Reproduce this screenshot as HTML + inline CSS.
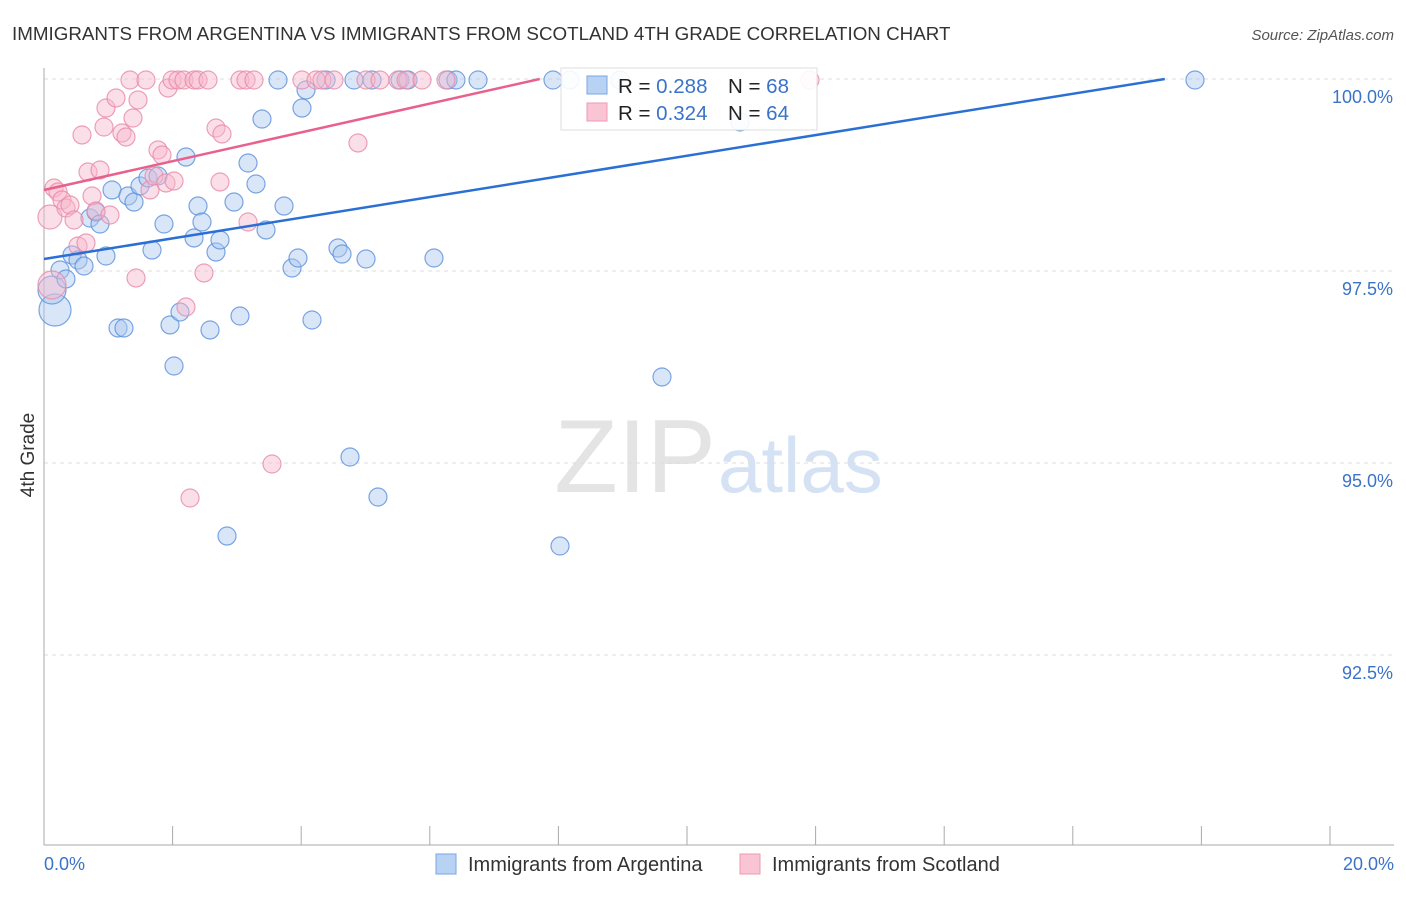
<!DOCTYPE html>
<html><head><meta charset="utf-8"><style>
body{margin:0;background:#fff;font-family:"Liberation Sans",sans-serif;}
svg text{font-family:"Liberation Sans",sans-serif;}
</style></head><body>
<svg width="1406" height="892" xmlns="http://www.w3.org/2000/svg">
<text x="12" y="40" font-size="18.8" fill="#333">IMMIGRANTS FROM ARGENTINA VS IMMIGRANTS FROM SCOTLAND 4TH GRADE CORRELATION CHART</text>
<text x="1394" y="40" font-size="15" fill="#555" text-anchor="end" font-style="italic">Source: ZipAtlas.com</text>
<text x="716" y="492" font-size="104" fill="#e4e4e4" text-anchor="end" font-family="Liberation Serif">ZIP</text>
<text x="718" y="492" font-size="78" fill="#d4e2f4">atlas</text>
<g id="grid"></g>
<g id="axes"></g>
<g id="pts"></g>
<g id="lines"></g>
<text transform="translate(34,455) rotate(-90)" font-size="19" fill="#333" text-anchor="middle">4th Grade</text>
<text x="44" y="870" font-size="18" fill="#3a73c8">0.0%</text>
<text x="1394" y="870" font-size="18" fill="#3a73c8" text-anchor="end">20.0%</text>
<g>
<rect x="561" y="68" width="256" height="62" fill="#fff" fill-opacity="0.9" stroke="#ddd"/>
<rect x="587" y="76" width="20" height="18" fill="#b8d2f4" stroke="#7aa6e4"/>
<rect x="587" y="103" width="20" height="18" fill="#f9c4d4" stroke="#ee9ab4"/>
<text x="618" y="93" font-size="20.5" fill="#222">R = <tspan fill="#3a73c8">0.288</tspan><tspan x="728">N = </tspan><tspan fill="#3a73c8">68</tspan></text>
<text x="618" y="120" font-size="20.5" fill="#222">R = <tspan fill="#3a73c8">0.324</tspan><tspan x="728">N = </tspan><tspan fill="#3a73c8">64</tspan></text>
</g>
<g><rect x="436" y="854" width="20" height="20" fill="#b8d2f4" stroke="#7aa6e4"/><text x="468" y="871" font-size="20" fill="#333">Immigrants from Argentina</text></g>
<g><rect x="740" y="854" width="20" height="20" fill="#f9c4d4" stroke="#ee9ab4"/><text x="772" y="871" font-size="20" fill="#333">Immigrants from Scotland</text></g>
</svg>
<script>
const yTicks=[100,97.5,95,92.5];
const yTickLabels=["100.0%","97.5%","95.0%","92.5%"];
const xTicks=[0,2,4,6,8,10,12,14,16,18,20];
const bluePx=[[55,310,16],[52,290,14],[60,270],[66,279],[72,255],[78,260],[84,266],[90,218],[96,212],[100,224],[106,256],[112,190],[118,328],[124,328],[128,196],[134,202],[140,186],[148,178],[152,250],[158,176],[164,224],[170,325],[174,366],[180,312],[186,157],[194,238],[198,206],[202,222],[210,330],[216,252],[220,240],[227,536],[234,202],[240,316],[248,163],[256,184],[262,119],[266,230],[278,80],[284,206],[292,268],[298,258],[302,108],[306,90],[312,320],[326,80],[338,248],[342,254],[350,457],[354,80],[366,259],[372,80],[378,497],[400,80],[408,80],[434,258],[448,80],[456,80],[478,80],[553,80],[560,546],[570,80],[620,80],[662,377],[740,122],[1195,80]];
const pinkPx=[[50,217,12],[52,285,14],[54,188],[58,192],[62,200],[66,208],[70,205],[74,220],[78,246],[82,135],[86,243],[88,172],[92,196],[96,211],[100,170],[104,127],[106,108],[110,215],[116,98],[122,133],[126,137],[130,80],[133,118],[136,278],[138,100],[146,80],[150,190],[154,176],[158,150],[162,155],[166,183],[168,88],[172,80],[174,181],[178,80],[184,80],[186,307],[190,498],[194,80],[198,80],[204,273],[208,80],[216,128],[220,182],[222,134],[240,80],[246,80],[248,222],[254,80],[272,464],[302,80],[316,80],[322,80],[334,80],[358,143],[366,80],[380,80],[398,80],[406,80],[422,80],[446,80],[810,80]];
const blueX=bluePx.map(p=>+((p[0]-44)/1286*20).toFixed(3));
const blueY=bluePx.map(p=>+(100-(p[1]-79)/192*2.5).toFixed(3));
const pinkX=pinkPx.map(p=>+((p[0]-44)/1286*20).toFixed(3));
const pinkY=pinkPx.map(p=>+(100-(p[1]-79)/192*2.5).toFixed(3));
const blueTrend=[[0,97.656],[17.43,100]];
const pinkTrend=[[0,98.555],[7.71,100]];
const X=v=>44+v/20*1286, Y=v=>79+(100-v)/2.5*192;
const NS="http://www.w3.org/2000/svg";
function mk(t,a,p){const e=document.createElementNS(NS,t);for(const k in a)e.setAttribute(k,a[k]);document.getElementById(p).appendChild(e);return e;}
yTicks.forEach((t,i)=>{
 const g=mk('line',{x1:44,x2:1394,y1:Y(t),y2:Y(t),stroke:'#ddd','stroke-dasharray':'4,4'},'grid');
 
 
 const l=mk('text',{x:1393,y:Y(t)+24,'font-size':18,fill:'#3a73c8','text-anchor':'end'},'grid');l.textContent=yTickLabels[i];
 
 
});
const ax=mk('line',{x1:44,x2:44,y1:68,y2:845,stroke:'#aaa'},'axes');


const bx=mk('line',{x1:44,x2:1394,y1:845,y2:845,stroke:'#aaa'},'axes');


xTicks.forEach(t=>{const e=mk('line',{x1:X(t),x2:X(t),y1:826,y2:845,stroke:'#aaa'},'axes');
 
 });
function pts(xs,ys,px,fill,stroke,name){xs.forEach((x,i)=>{const r=px[i][2]||9;
 const c=mk('circle',{cx:X(x),cy:Y(ys[i]),r:r,fill:fill,'fill-opacity':0.45,stroke:stroke,'stroke-opacity':0.8,'stroke-width':1.2},'pts');
 
 });}
pts(blueX,blueY,bluePx,'#aac8f0','#5b90dc','argentina-point');
pts(pinkX,pinkY,pinkPx,'#f7b8cc','#e88aa8','scotland-point');
const bl=mk('line',{x1:X(blueTrend[0][0]),y1:Y(blueTrend[0][1]),x2:X(blueTrend[1][0]),y2:Y(blueTrend[1][1]),stroke:'#2a6fd4','stroke-width':2.5},'lines');


const pl=mk('line',{x1:X(pinkTrend[0][0]),y1:Y(pinkTrend[0][1]),x2:X(pinkTrend[1][0]),y2:Y(pinkTrend[1][1]),stroke:'#e8608c','stroke-width':2.5},'lines');


</script>
</body></html>
